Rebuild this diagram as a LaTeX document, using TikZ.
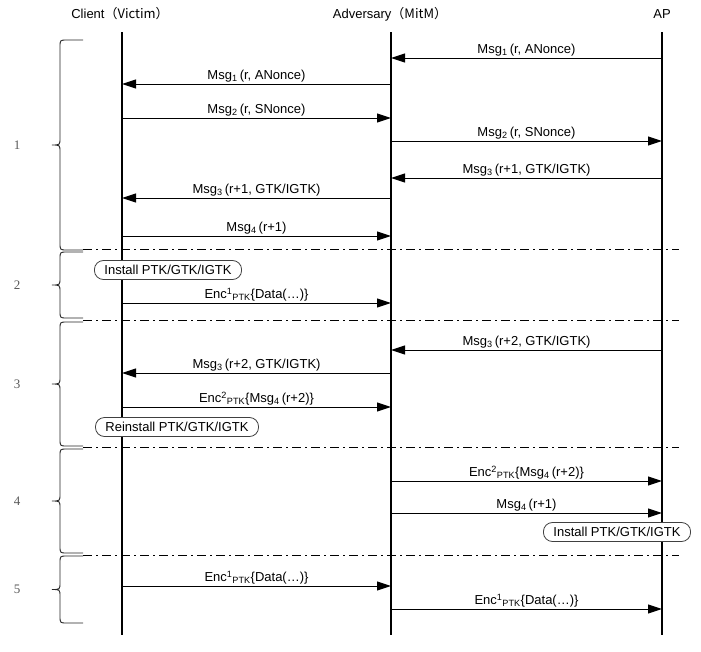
\documentclass[tikz,border=0pt]{standalone}
\usepackage{fontspec}
\setmainfont{Liberation Sans}
\newfontfamily\cjk{Noto Sans CJK SC}
\newfontfamily\numfont{Liberation Serif}
\usetikzlibrary{arrows.meta}

\begin{document}
\begin{tikzpicture}[
  x=1pt, y=-1pt,
  font=\fontsize{13}{15}\selectfont,
  life/.style={line width=1.8pt},
  msg/.style={-{Triangle[length=14pt, width=9pt]}, line width=1pt},
  lbl/.style={above=-2pt},
  sep/.style={line width=0.8pt, dash pattern=on 9pt off 4pt on 2pt off 4pt},
  state/.style={draw=black!75, fill=white, rounded corners=9pt, line width=0.8pt,
    minimum height=19pt, inner xsep=10pt, inner ysep=0pt},
  brc/.style={draw=black!85, line width=0.9pt},
  grp/.style={font=\numfont\fontsize{13}{15}\selectfont, text=black!65},
]
\useasboundingbox (0,0) rectangle (701,651);

% --- Parties and lifelines ------------------------------------------------
\node (client) at (120,14) {Client\cjk{（}Victim\cjk{）}};
\node (adv)    at (390,14) {Adversary\cjk{（}MitM\cjk{）}};
\node (ap)     at (662,14) {AP};

\foreach \n/\x in {C/122, A/391, P/662} {
  \coordinate (\n) at (\x,32);
  \coordinate (\n end) at (\x,635);
  \draw[life] (\n) -- (\n end);
}

% --- Phase separators -----------------------------------------------------
\foreach \y in {249, 320, 447, 555}
  \draw[sep] (83,\y) -- (679,\y);

% --- Braces with phase numbers --------------------------------------------
\foreach \t/\b/\n in {40/250/1, 252/318/2, 322/446/3, 449/553/4, 556/623/5} {
  \pgfmathsetmacro\m{(\t+\b)/2}
  \draw[brc] (83,\t) -- (67,\t) .. controls (60,\t) .. (60,\t+7)
    -- (60,\m-7) .. controls (60,\m) .. (52,\m)
    .. controls (60,\m) .. (60,\m+7)
    -- (60,\b-7) .. controls (60,\b) .. (67,\b) -- (83,\b);
  \node[grp] (g\n) at (17,\m) {\n};
}

% --- Key (re)installation -------------------------------------------------
\node[state] (inst)   at (168,270) {Install PTK/GTK/IGTK};
\node[state] (reinst) at (177,427) {Reinstall PTK/GTK/IGTK};
\node[state] (apinst) at (617,532) {Install PTK/GTK/IGTK};

% --- Messages ---------------------------------------------------------------
\foreach \f/\t/\y/\txt in {
    P/A/58/{Msg\textsubscript{1}\,(r, ANonce)},
    A/C/84/{Msg\textsubscript{1}\,(r, ANonce)},
    C/A/118/{Msg\textsubscript{2}\,(r, SNonce)},
    A/P/141/{Msg\textsubscript{2}\,(r, SNonce)},
    P/A/178/{Msg\textsubscript{3}\,(r+1, GTK/IGTK)},
    A/C/198/{Msg\textsubscript{3}\,(r+1, GTK/IGTK)},
    C/A/236/{Msg\textsubscript{4}\,(r+1)},
    C/A/303/{Enc\textsuperscript{1}\textsubscript{PTK}\{Data(…)\}},
    P/A/350/{Msg\textsubscript{3}\,(r+2, GTK/IGTK)},
    A/C/373/{Msg\textsubscript{3}\,(r+2, GTK/IGTK)},
    C/A/407/{Enc\textsuperscript{2}\textsubscript{PTK}\{Msg\textsubscript{4}\,(r+2)\}},
    A/P/481/{Enc\textsuperscript{2}\textsubscript{PTK}\{Msg\textsubscript{4}\,(r+2)\}},
    A/P/513/{Msg\textsubscript{4}\,(r+1)},
    C/A/586/{Enc\textsuperscript{1}\textsubscript{PTK}\{Data(…)\}},
    A/P/609/{Enc\textsuperscript{1}\textsubscript{PTK}\{Data(…)\}}}
  \draw[msg] (\f |- 0,\y) -- node[lbl] {\txt} (\t |- 0,\y);

\end{tikzpicture}
\end{document}
